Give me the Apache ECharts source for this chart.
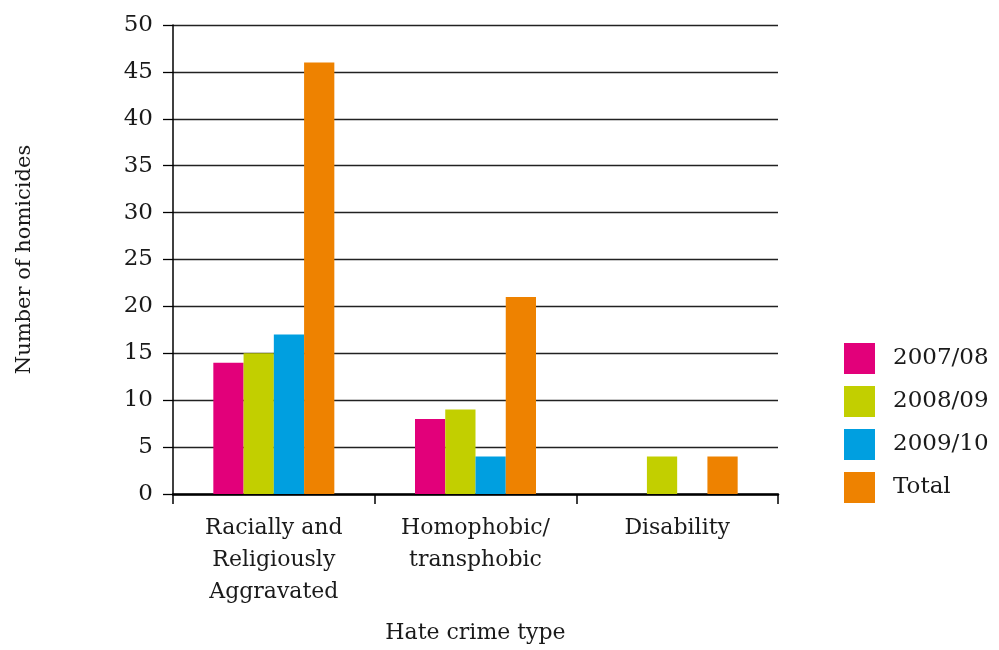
<!DOCTYPE html>
<html><head><meta charset="utf-8">
<script src="https://cdn.jsdelivr.net/npm/echarts@6/dist/echarts.min.js"></script>
<style>html,body{margin:0;padding:0;background:#fff}#c{width:999px;height:650px}</style>
</head><body><div id="c"></div>
<script>
const categories = ['Racially and\nReligiously\nAggravated', 'Homophobic/\ntransphobic', 'Disability'];
const seriesNames = ['2007/08', '2008/09', '2009/10', 'Total'];
const v2007 = [14, 8, 0];
const v2008 = [15, 9, 4];
const v2009 = [17, 4, 0];
const vTotal = [46, 21, 4];
const colors = ['#E2007A', '#C2CF00', '#009FE0', '#EE8200'];
const FONT = 'DejaVu Serif';
const values = [v2007, v2008, v2009, vTotal];
const chart = echarts.init(document.getElementById('c'));
chart.setOption({
  animation: false,
  textStyle: {fontFamily: FONT, color: '#1a1a1a'},
  grid: {left: 173, right: 221, top: 25, bottom: 156, containLabel: false, outerBoundsMode: 'none'},
  legend: {
    orient: 'vertical', left: 839, top: 338,
    itemWidth: 31, itemHeight: 31, itemGap: 12,
    icon: 'rect',
    textStyle: {fontFamily: FONT, fontSize: 23, color: '#1a1a1a', padding: [0, 0, 0, 13]},
    data: seriesNames
  },
  xAxis: {
    type: 'category', data: categories,
    name: 'Hate crime type', nameLocation: 'middle', nameGap: 128,
    nameTextStyle: {fontFamily: FONT, fontSize: 22, color: '#1a1a1a'},
    axisLine: {lineStyle: {color: '#000', width: 2.5}},
    axisTick: {show: true, length: 10, lineStyle: {color: '#000', width: 1.5}},
    axisLabel: {fontFamily: FONT, fontSize: 22, lineHeight: 32, color: '#1a1a1a', margin: 18}
  },
  yAxis: {
    type: 'value', min: 0, max: 50, interval: 5,
    name: 'Number of homicides', nameLocation: 'middle', nameGap: 138, nameRotate: 90,
    nameTextStyle: {fontFamily: FONT, fontSize: 21, color: '#1a1a1a'},
    axisLine: {show: true, lineStyle: {color: '#000', width: 1.5}},
    axisTick: {show: true, length: 10, lineStyle: {color: '#000', width: 1.3}},
    axisLabel: {fontFamily: FONT, fontSize: 23, color: '#1a1a1a', margin: 20},
    splitLine: {show: true, lineStyle: {color: '#222', width: 1.3}}
  },
  series: seriesNames.map((n, i) => ({
    name: n, type: 'bar', data: values[i],
    barGap: '0%', barCategoryGap: '40%',
    itemStyle: {color: colors[i]}
  }))
});
</script></body></html>
